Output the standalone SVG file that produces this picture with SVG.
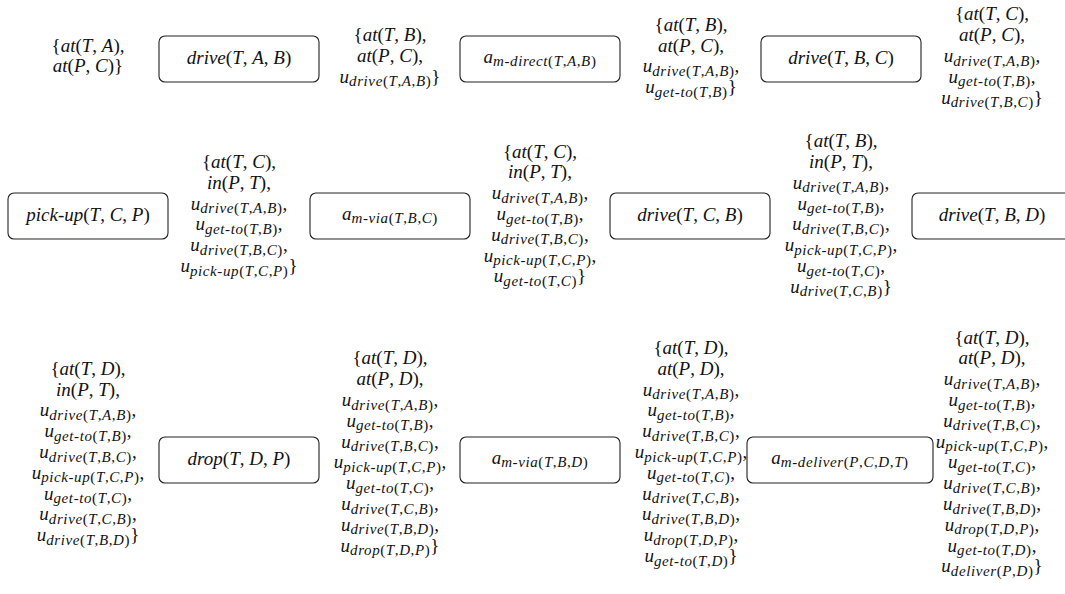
<svg xmlns="http://www.w3.org/2000/svg" width="1065" height="594" viewBox="0 0 1065 594">
<style>
  .bx { fill: #fff; stroke: #222; stroke-width: 1.1; }
  text { font-family: "Liberation Serif", "Times New Roman", serif; font-size: 19px; font-style: italic; fill: #111; text-anchor: middle; }
  .r { font-style: normal; }
  .s { font-size: 15px; letter-spacing: 0.6px; }
</style>
<rect width="1065" height="594" fill="#fff"/>

<!-- ===== row 1 ===== -->
<g id="state-1-0">
  <text x="88" y="51.6"><tspan class="r">{</tspan>at<tspan class="r">(</tspan>T<tspan class="r">, </tspan>A<tspan class="r">),</tspan></text>
  <text x="88" y="72.4">at<tspan class="r">(</tspan>P<tspan class="r">, </tspan>C<tspan class="r">)}</tspan></text>
</g>
<g id="act-drive-TAB">
  <rect class="bx" x="159" y="36" width="160" height="46" rx="6"/>
  <text x="239" y="64">drive<tspan class="r">(</tspan>T<tspan class="r">, </tspan>A<tspan class="r">, </tspan>B<tspan class="r">)</tspan></text>
</g>
<g id="state-1-1">
  <text x="390" y="41.2"><tspan class="r">{</tspan>at<tspan class="r">(</tspan>T<tspan class="r">, </tspan>B<tspan class="r">),</tspan></text>
  <text x="390" y="62">at<tspan class="r">(</tspan>P<tspan class="r">, </tspan>C<tspan class="r">),</tspan></text>
  <text x="390" y="82.8">u<tspan class="s" dy="3.5">drive<tspan class="r">(</tspan>T<tspan class="r">,</tspan>A<tspan class="r">,</tspan>B<tspan class="r">)</tspan></tspan><tspan class="r" dy="-3.5">}</tspan></text>
</g>
<g id="act-m-direct-TAB">
  <rect class="bx" x="460" y="36" width="160" height="46" rx="6"/>
  <text x="540" y="62.5">a<tspan class="s" dy="3.5">m-direct<tspan class="r">(</tspan>T<tspan class="r">,</tspan>A<tspan class="r">,</tspan>B<tspan class="r">)</tspan></tspan></text>
</g>
<g id="state-1-2">
  <text x="691" y="30.8"><tspan class="r">{</tspan>at<tspan class="r">(</tspan>T<tspan class="r">, </tspan>B<tspan class="r">),</tspan></text>
  <text x="691" y="51.6">at<tspan class="r">(</tspan>P<tspan class="r">, </tspan>C<tspan class="r">),</tspan></text>
  <text x="691" y="72.4">u<tspan class="s" dy="3.5">drive<tspan class="r">(</tspan>T<tspan class="r">,</tspan>A<tspan class="r">,</tspan>B<tspan class="r">)</tspan></tspan><tspan class="r" dy="-3.5">,</tspan></text>
  <text x="691" y="93.2">u<tspan class="s" dy="3.5">get-to<tspan class="r">(</tspan>T<tspan class="r">,</tspan>B<tspan class="r">)</tspan></tspan><tspan class="r" dy="-3.5">}</tspan></text>
</g>
<g id="act-drive-TBC">
  <rect class="bx" x="761" y="36" width="160" height="46" rx="6"/>
  <text x="841" y="64">drive<tspan class="r">(</tspan>T<tspan class="r">, </tspan>B<tspan class="r">, </tspan>C<tspan class="r">)</tspan></text>
</g>
<g id="state-1-3">
  <text x="992" y="20.4"><tspan class="r">{</tspan>at<tspan class="r">(</tspan>T<tspan class="r">, </tspan>C<tspan class="r">),</tspan></text>
  <text x="992" y="41.2">at<tspan class="r">(</tspan>P<tspan class="r">, </tspan>C<tspan class="r">),</tspan></text>
  <text x="992" y="62">u<tspan class="s" dy="3.5">drive<tspan class="r">(</tspan>T<tspan class="r">,</tspan>A<tspan class="r">,</tspan>B<tspan class="r">)</tspan></tspan><tspan class="r" dy="-3.5">,</tspan></text>
  <text x="992" y="82.8">u<tspan class="s" dy="3.5">get-to<tspan class="r">(</tspan>T<tspan class="r">,</tspan>B<tspan class="r">)</tspan></tspan><tspan class="r" dy="-3.5">,</tspan></text>
  <text x="992" y="103.6">u<tspan class="s" dy="3.5">drive<tspan class="r">(</tspan>T<tspan class="r">,</tspan>B<tspan class="r">,</tspan>C<tspan class="r">)</tspan></tspan><tspan class="r" dy="-3.5">}</tspan></text>
</g>

<!-- ===== row 2 ===== -->
<g id="act-pick-up-TCP">
  <rect class="bx" x="8" y="193" width="160" height="46" rx="6"/>
  <text x="88" y="221">pick-up<tspan class="r">(</tspan>T<tspan class="r">, </tspan>C<tspan class="r">, </tspan>P<tspan class="r">)</tspan></text>
</g>
<g id="state-2-1">
  <text x="239" y="168"><tspan class="r">{</tspan>at<tspan class="r">(</tspan>T<tspan class="r">, </tspan>C<tspan class="r">),</tspan></text>
  <text x="239" y="188.8">in<tspan class="r">(</tspan>P<tspan class="r">, </tspan>T<tspan class="r">),</tspan></text>
  <text x="239" y="209.6">u<tspan class="s" dy="3.5">drive<tspan class="r">(</tspan>T<tspan class="r">,</tspan>A<tspan class="r">,</tspan>B<tspan class="r">)</tspan></tspan><tspan class="r" dy="-3.5">,</tspan></text>
  <text x="239" y="230.4">u<tspan class="s" dy="3.5">get-to<tspan class="r">(</tspan>T<tspan class="r">,</tspan>B<tspan class="r">)</tspan></tspan><tspan class="r" dy="-3.5">,</tspan></text>
  <text x="239" y="251.2">u<tspan class="s" dy="3.5">drive<tspan class="r">(</tspan>T<tspan class="r">,</tspan>B<tspan class="r">,</tspan>C<tspan class="r">)</tspan></tspan><tspan class="r" dy="-3.5">,</tspan></text>
  <text x="239" y="272">u<tspan class="s" dy="3.5">pick-up<tspan class="r">(</tspan>T<tspan class="r">,</tspan>C<tspan class="r">,</tspan>P<tspan class="r">)</tspan></tspan><tspan class="r" dy="-3.5">}</tspan></text>
</g>
<g id="act-m-via-TBC">
  <rect class="bx" x="310" y="193" width="160" height="46" rx="6"/>
  <text x="390" y="219.5">a<tspan class="s" dy="3.5">m-via<tspan class="r">(</tspan>T<tspan class="r">,</tspan>B<tspan class="r">,</tspan>C<tspan class="r">)</tspan></tspan></text>
</g>
<g id="state-2-3">
  <text x="540" y="157.6"><tspan class="r">{</tspan>at<tspan class="r">(</tspan>T<tspan class="r">, </tspan>C<tspan class="r">),</tspan></text>
  <text x="540" y="178.4">in<tspan class="r">(</tspan>P<tspan class="r">, </tspan>T<tspan class="r">),</tspan></text>
  <text x="540" y="199.2">u<tspan class="s" dy="3.5">drive<tspan class="r">(</tspan>T<tspan class="r">,</tspan>A<tspan class="r">,</tspan>B<tspan class="r">)</tspan></tspan><tspan class="r" dy="-3.5">,</tspan></text>
  <text x="540" y="220">u<tspan class="s" dy="3.5">get-to<tspan class="r">(</tspan>T<tspan class="r">,</tspan>B<tspan class="r">)</tspan></tspan><tspan class="r" dy="-3.5">,</tspan></text>
  <text x="540" y="240.8">u<tspan class="s" dy="3.5">drive<tspan class="r">(</tspan>T<tspan class="r">,</tspan>B<tspan class="r">,</tspan>C<tspan class="r">)</tspan></tspan><tspan class="r" dy="-3.5">,</tspan></text>
  <text x="540" y="261.6">u<tspan class="s" dy="3.5">pick-up<tspan class="r">(</tspan>T<tspan class="r">,</tspan>C<tspan class="r">,</tspan>P<tspan class="r">)</tspan></tspan><tspan class="r" dy="-3.5">,</tspan></text>
  <text x="540" y="282.4">u<tspan class="s" dy="3.5">get-to<tspan class="r">(</tspan>T<tspan class="r">,</tspan>C<tspan class="r">)</tspan></tspan><tspan class="r" dy="-3.5">}</tspan></text>
</g>
<g id="act-drive-TCB">
  <rect class="bx" x="610" y="193" width="160" height="46" rx="6"/>
  <text x="690" y="221">drive<tspan class="r">(</tspan>T<tspan class="r">, </tspan>C<tspan class="r">, </tspan>B<tspan class="r">)</tspan></text>
</g>
<g id="state-2-5">
  <text x="841" y="147.2"><tspan class="r">{</tspan>at<tspan class="r">(</tspan>T<tspan class="r">, </tspan>B<tspan class="r">),</tspan></text>
  <text x="841" y="168">in<tspan class="r">(</tspan>P<tspan class="r">, </tspan>T<tspan class="r">),</tspan></text>
  <text x="841" y="188.8">u<tspan class="s" dy="3.5">drive<tspan class="r">(</tspan>T<tspan class="r">,</tspan>A<tspan class="r">,</tspan>B<tspan class="r">)</tspan></tspan><tspan class="r" dy="-3.5">,</tspan></text>
  <text x="841" y="209.6">u<tspan class="s" dy="3.5">get-to<tspan class="r">(</tspan>T<tspan class="r">,</tspan>B<tspan class="r">)</tspan></tspan><tspan class="r" dy="-3.5">,</tspan></text>
  <text x="841" y="230.4">u<tspan class="s" dy="3.5">drive<tspan class="r">(</tspan>T<tspan class="r">,</tspan>B<tspan class="r">,</tspan>C<tspan class="r">)</tspan></tspan><tspan class="r" dy="-3.5">,</tspan></text>
  <text x="841" y="251.2">u<tspan class="s" dy="3.5">pick-up<tspan class="r">(</tspan>T<tspan class="r">,</tspan>C<tspan class="r">,</tspan>P<tspan class="r">)</tspan></tspan><tspan class="r" dy="-3.5">,</tspan></text>
  <text x="841" y="272">u<tspan class="s" dy="3.5">get-to<tspan class="r">(</tspan>T<tspan class="r">,</tspan>C<tspan class="r">)</tspan></tspan><tspan class="r" dy="-3.5">,</tspan></text>
  <text x="841" y="292.8">u<tspan class="s" dy="3.5">drive<tspan class="r">(</tspan>T<tspan class="r">,</tspan>C<tspan class="r">,</tspan>B<tspan class="r">)</tspan></tspan><tspan class="r" dy="-3.5">}</tspan></text>
</g>
<g id="act-drive-TBD">
  <rect class="bx" x="912" y="193" width="160" height="46" rx="6"/>
  <text x="992" y="221">drive<tspan class="r">(</tspan>T<tspan class="r">, </tspan>B<tspan class="r">, </tspan>D<tspan class="r">)</tspan></text>
</g>

<!-- ===== row 3 ===== -->
<g id="state-3-0">
  <text x="88" y="374.8"><tspan class="r">{</tspan>at<tspan class="r">(</tspan>T<tspan class="r">, </tspan>D<tspan class="r">),</tspan></text>
  <text x="88" y="395.6">in<tspan class="r">(</tspan>P<tspan class="r">, </tspan>T<tspan class="r">),</tspan></text>
  <text x="88" y="416.4">u<tspan class="s" dy="3.5">drive<tspan class="r">(</tspan>T<tspan class="r">,</tspan>A<tspan class="r">,</tspan>B<tspan class="r">)</tspan></tspan><tspan class="r" dy="-3.5">,</tspan></text>
  <text x="88" y="437.2">u<tspan class="s" dy="3.5">get-to<tspan class="r">(</tspan>T<tspan class="r">,</tspan>B<tspan class="r">)</tspan></tspan><tspan class="r" dy="-3.5">,</tspan></text>
  <text x="88" y="458">u<tspan class="s" dy="3.5">drive<tspan class="r">(</tspan>T<tspan class="r">,</tspan>B<tspan class="r">,</tspan>C<tspan class="r">)</tspan></tspan><tspan class="r" dy="-3.5">,</tspan></text>
  <text x="88" y="478.8">u<tspan class="s" dy="3.5">pick-up<tspan class="r">(</tspan>T<tspan class="r">,</tspan>C<tspan class="r">,</tspan>P<tspan class="r">)</tspan></tspan><tspan class="r" dy="-3.5">,</tspan></text>
  <text x="88" y="499.6">u<tspan class="s" dy="3.5">get-to<tspan class="r">(</tspan>T<tspan class="r">,</tspan>C<tspan class="r">)</tspan></tspan><tspan class="r" dy="-3.5">,</tspan></text>
  <text x="88" y="520.4">u<tspan class="s" dy="3.5">drive<tspan class="r">(</tspan>T<tspan class="r">,</tspan>C<tspan class="r">,</tspan>B<tspan class="r">)</tspan></tspan><tspan class="r" dy="-3.5">,</tspan></text>
  <text x="88" y="541.2">u<tspan class="s" dy="3.5">drive<tspan class="r">(</tspan>T<tspan class="r">,</tspan>B<tspan class="r">,</tspan>D<tspan class="r">)</tspan></tspan><tspan class="r" dy="-3.5">}</tspan></text>
</g>
<g id="act-drop-TDP">
  <rect class="bx" x="159" y="437" width="160" height="46" rx="6"/>
  <text x="239" y="465">drop<tspan class="r">(</tspan>T<tspan class="r">, </tspan>D<tspan class="r">, </tspan>P<tspan class="r">)</tspan></text>
</g>
<g id="state-3-2">
  <text x="390" y="364.4"><tspan class="r">{</tspan>at<tspan class="r">(</tspan>T<tspan class="r">, </tspan>D<tspan class="r">),</tspan></text>
  <text x="390" y="385.2">at<tspan class="r">(</tspan>P<tspan class="r">, </tspan>D<tspan class="r">),</tspan></text>
  <text x="390" y="406">u<tspan class="s" dy="3.5">drive<tspan class="r">(</tspan>T<tspan class="r">,</tspan>A<tspan class="r">,</tspan>B<tspan class="r">)</tspan></tspan><tspan class="r" dy="-3.5">,</tspan></text>
  <text x="390" y="426.8">u<tspan class="s" dy="3.5">get-to<tspan class="r">(</tspan>T<tspan class="r">,</tspan>B<tspan class="r">)</tspan></tspan><tspan class="r" dy="-3.5">,</tspan></text>
  <text x="390" y="447.6">u<tspan class="s" dy="3.5">drive<tspan class="r">(</tspan>T<tspan class="r">,</tspan>B<tspan class="r">,</tspan>C<tspan class="r">)</tspan></tspan><tspan class="r" dy="-3.5">,</tspan></text>
  <text x="390" y="468.4">u<tspan class="s" dy="3.5">pick-up<tspan class="r">(</tspan>T<tspan class="r">,</tspan>C<tspan class="r">,</tspan>P<tspan class="r">)</tspan></tspan><tspan class="r" dy="-3.5">,</tspan></text>
  <text x="390" y="489.2">u<tspan class="s" dy="3.5">get-to<tspan class="r">(</tspan>T<tspan class="r">,</tspan>C<tspan class="r">)</tspan></tspan><tspan class="r" dy="-3.5">,</tspan></text>
  <text x="390" y="510">u<tspan class="s" dy="3.5">drive<tspan class="r">(</tspan>T<tspan class="r">,</tspan>C<tspan class="r">,</tspan>B<tspan class="r">)</tspan></tspan><tspan class="r" dy="-3.5">,</tspan></text>
  <text x="390" y="530.8">u<tspan class="s" dy="3.5">drive<tspan class="r">(</tspan>T<tspan class="r">,</tspan>B<tspan class="r">,</tspan>D<tspan class="r">)</tspan></tspan><tspan class="r" dy="-3.5">,</tspan></text>
  <text x="390" y="551.6">u<tspan class="s" dy="3.5">drop<tspan class="r">(</tspan>T<tspan class="r">,</tspan>D<tspan class="r">,</tspan>P<tspan class="r">)</tspan></tspan><tspan class="r" dy="-3.5">}</tspan></text>
</g>
<g id="act-m-via-TBD">
  <rect class="bx" x="460" y="437" width="160" height="46" rx="6"/>
  <text x="540" y="463.5">a<tspan class="s" dy="3.5">m-via<tspan class="r">(</tspan>T<tspan class="r">,</tspan>B<tspan class="r">,</tspan>D<tspan class="r">)</tspan></tspan></text>
</g>
<g id="state-3-4">
  <text x="691" y="354"><tspan class="r">{</tspan>at<tspan class="r">(</tspan>T<tspan class="r">, </tspan>D<tspan class="r">),</tspan></text>
  <text x="691" y="374.8">at<tspan class="r">(</tspan>P<tspan class="r">, </tspan>D<tspan class="r">),</tspan></text>
  <text x="691" y="395.6">u<tspan class="s" dy="3.5">drive<tspan class="r">(</tspan>T<tspan class="r">,</tspan>A<tspan class="r">,</tspan>B<tspan class="r">)</tspan></tspan><tspan class="r" dy="-3.5">,</tspan></text>
  <text x="691" y="416.4">u<tspan class="s" dy="3.5">get-to<tspan class="r">(</tspan>T<tspan class="r">,</tspan>B<tspan class="r">)</tspan></tspan><tspan class="r" dy="-3.5">,</tspan></text>
  <text x="691" y="437.2">u<tspan class="s" dy="3.5">drive<tspan class="r">(</tspan>T<tspan class="r">,</tspan>B<tspan class="r">,</tspan>C<tspan class="r">)</tspan></tspan><tspan class="r" dy="-3.5">,</tspan></text>
  <text x="691" y="458">u<tspan class="s" dy="3.5">pick-up<tspan class="r">(</tspan>T<tspan class="r">,</tspan>C<tspan class="r">,</tspan>P<tspan class="r">)</tspan></tspan><tspan class="r" dy="-3.5">,</tspan></text>
  <text x="691" y="478.8">u<tspan class="s" dy="3.5">get-to<tspan class="r">(</tspan>T<tspan class="r">,</tspan>C<tspan class="r">)</tspan></tspan><tspan class="r" dy="-3.5">,</tspan></text>
  <text x="691" y="499.6">u<tspan class="s" dy="3.5">drive<tspan class="r">(</tspan>T<tspan class="r">,</tspan>C<tspan class="r">,</tspan>B<tspan class="r">)</tspan></tspan><tspan class="r" dy="-3.5">,</tspan></text>
  <text x="691" y="520.4">u<tspan class="s" dy="3.5">drive<tspan class="r">(</tspan>T<tspan class="r">,</tspan>B<tspan class="r">,</tspan>D<tspan class="r">)</tspan></tspan><tspan class="r" dy="-3.5">,</tspan></text>
  <text x="691" y="541.2">u<tspan class="s" dy="3.5">drop<tspan class="r">(</tspan>T<tspan class="r">,</tspan>D<tspan class="r">,</tspan>P<tspan class="r">)</tspan></tspan><tspan class="r" dy="-3.5">,</tspan></text>
  <text x="691" y="562">u<tspan class="s" dy="3.5">get-to<tspan class="r">(</tspan>T<tspan class="r">,</tspan>D<tspan class="r">)</tspan></tspan><tspan class="r" dy="-3.5">}</tspan></text>
</g>
<g id="act-m-deliver-PCDT">
  <rect class="bx" x="747" y="437" width="186" height="46" rx="6"/>
  <text x="840" y="463.5">a<tspan class="s" dy="3.5">m-deliver<tspan class="r">(</tspan>P<tspan class="r">,</tspan>C<tspan class="r">,</tspan>D<tspan class="r">,</tspan>T<tspan class="r">)</tspan></tspan></text>
</g>
<g id="state-3-6">
  <text x="992" y="343.6"><tspan class="r">{</tspan>at<tspan class="r">(</tspan>T<tspan class="r">, </tspan>D<tspan class="r">),</tspan></text>
  <text x="992" y="364.4">at<tspan class="r">(</tspan>P<tspan class="r">, </tspan>D<tspan class="r">),</tspan></text>
  <text x="992" y="385.2">u<tspan class="s" dy="3.5">drive<tspan class="r">(</tspan>T<tspan class="r">,</tspan>A<tspan class="r">,</tspan>B<tspan class="r">)</tspan></tspan><tspan class="r" dy="-3.5">,</tspan></text>
  <text x="992" y="406">u<tspan class="s" dy="3.5">get-to<tspan class="r">(</tspan>T<tspan class="r">,</tspan>B<tspan class="r">)</tspan></tspan><tspan class="r" dy="-3.5">,</tspan></text>
  <text x="992" y="426.8">u<tspan class="s" dy="3.5">drive<tspan class="r">(</tspan>T<tspan class="r">,</tspan>B<tspan class="r">,</tspan>C<tspan class="r">)</tspan></tspan><tspan class="r" dy="-3.5">,</tspan></text>
  <text x="992" y="447.6">u<tspan class="s" dy="3.5">pick-up<tspan class="r">(</tspan>T<tspan class="r">,</tspan>C<tspan class="r">,</tspan>P<tspan class="r">)</tspan></tspan><tspan class="r" dy="-3.5">,</tspan></text>
  <text x="992" y="468.4">u<tspan class="s" dy="3.5">get-to<tspan class="r">(</tspan>T<tspan class="r">,</tspan>C<tspan class="r">)</tspan></tspan><tspan class="r" dy="-3.5">,</tspan></text>
  <text x="992" y="489.2">u<tspan class="s" dy="3.5">drive<tspan class="r">(</tspan>T<tspan class="r">,</tspan>C<tspan class="r">,</tspan>B<tspan class="r">)</tspan></tspan><tspan class="r" dy="-3.5">,</tspan></text>
  <text x="992" y="510">u<tspan class="s" dy="3.5">drive<tspan class="r">(</tspan>T<tspan class="r">,</tspan>B<tspan class="r">,</tspan>D<tspan class="r">)</tspan></tspan><tspan class="r" dy="-3.5">,</tspan></text>
  <text x="992" y="530.8">u<tspan class="s" dy="3.5">drop<tspan class="r">(</tspan>T<tspan class="r">,</tspan>D<tspan class="r">,</tspan>P<tspan class="r">)</tspan></tspan><tspan class="r" dy="-3.5">,</tspan></text>
  <text x="992" y="551.6">u<tspan class="s" dy="3.5">get-to<tspan class="r">(</tspan>T<tspan class="r">,</tspan>D<tspan class="r">)</tspan></tspan><tspan class="r" dy="-3.5">,</tspan></text>
  <text x="992" y="572.4">u<tspan class="s" dy="3.5">deliver<tspan class="r">(</tspan>P<tspan class="r">,</tspan>D<tspan class="r">)</tspan></tspan><tspan class="r" dy="-3.5">}</tspan></text>
</g>
</svg>
